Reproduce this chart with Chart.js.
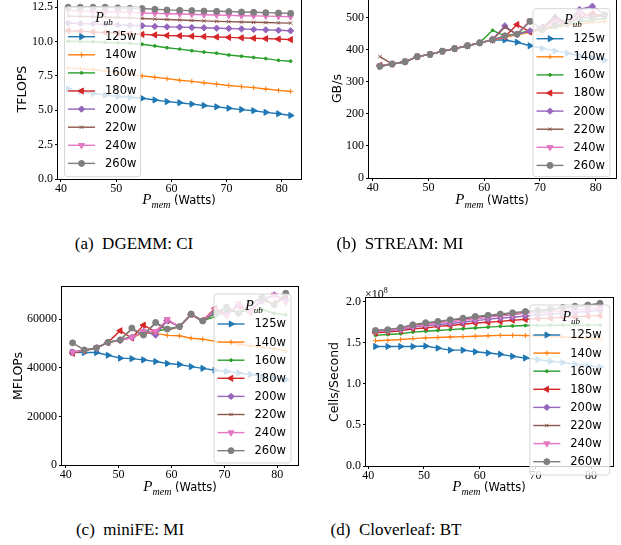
<!DOCTYPE html>
<html>
<head>
<meta charset="utf-8">
<script src="https://cdn.jsdelivr.net/npm/chart.js@4.4.0/dist/chart.umd.min.js"></script>
<style>
body{margin:0;background:#fff;width:621px;height:545px;overflow:hidden;position:relative}
canvas{position:absolute}
.xt{position:absolute;font-family:"DejaVu Sans";font-size:11.5px;line-height:1;white-space:nowrap;transform:translate(-50%,-50%)}
.xt i{font-family:"Liberation Serif";font-size:15px}
.xt sub{font-family:"Liberation Serif";font-style:italic;font-size:10px}
.cap{position:absolute;font-family:"Liberation Serif";font-size:17px;line-height:1;transform:translate(-50%,-50%);white-space:nowrap}
.mult{position:absolute;font-family:"Liberation Serif";font-size:12px;line-height:1}
.mult sup{font-size:8px}
</style>
</head>
<body>
<canvas id="ca" width="309" height="203" style="left:0px;top:-10px"></canvas>
<canvas id="cb" width="312" height="202" style="left:310px;top:-10px"></canvas>
<canvas id="cc" width="308" height="202" style="left:0px;top:277px"></canvas>
<canvas id="cd" width="309" height="192" style="left:310px;top:288px"></canvas>

<div class="xt" style="left:179px;top:201px"><i>P</i><sub>mem</sub> (Watts)</div>
<div class="xt" style="left:492px;top:201px"><i>P</i><sub>mem</sub> (Watts)</div>
<div class="xt" style="left:180px;top:488px"><i>P</i><sub>mem</sub> (Watts)</div>
<div class="xt" style="left:489px;top:488px"><i>P</i><sub>mem</sub> (Watts)</div>
<div class="mult" style="left:365px;top:287px">×10<sup>8</sup></div>

<div class="cap" style="left:134px;top:243px">(a)&nbsp;&nbsp;DGEMM: CI</div>
<div class="cap" style="left:400px;top:243px">(b)&nbsp;&nbsp;STREAM: MI</div>
<div class="cap" style="left:130px;top:529px">(c)&nbsp;&nbsp;miniFE: MI</div>
<div class="cap" style="left:396px;top:529px">(d)&nbsp;&nbsp;Cloverleaf: BT</div>

<script>
// memory power (x axis), same for every panel
var pmem = [41.3, 43.5, 45.8, 48.0, 50.3, 52.5, 54.7, 57.0, 59.2, 61.5, 63.7, 65.9, 68.2, 70.4, 72.7, 74.9, 77.1, 79.4, 81.6];
var caps = ["125w", "140w", "160w", "180w", "200w", "220w", "240w", "260w"];
var xTicks = [40, 50, 60, 70, 80];

// (a) DGEMM, TFLOPS
var dgemm125 = [6.55, 6.35, 6.22, 6.1, 6.0, 5.95, 5.87, 5.75, 5.63, 5.55, 5.45, 5.35, 5.25, 5.15, 5.05, 4.97, 4.85, 4.75, 4.62];
var dgemm140 = [8.1, 8.03, 7.97, 7.85, 7.75, 7.62, 7.5, 7.4, 7.3, 7.18, 7.1, 7.0, 6.9, 6.8, 6.72, 6.65, 6.55, 6.45, 6.37];
var dgemm160 = [10.02, 10.0, 9.98, 9.93, 9.9, 9.87, 9.8, 9.68, 9.55, 9.45, 9.33, 9.23, 9.15, 9.02, 8.93, 8.84, 8.76, 8.63, 8.57];
var dgemm180 = [10.8, 10.75, 10.7, 10.65, 10.6, 10.57, 10.52, 10.48, 10.44, 10.42, 10.39, 10.36, 10.33, 10.3, 10.27, 10.24, 10.21, 10.18, 10.14];
var dgemm200 = [11.35, 11.3, 11.28, 11.25, 11.22, 11.18, 11.15, 11.1, 11.07, 11.05, 11.02, 11.0, 10.97, 10.95, 10.92, 10.88, 10.85, 10.82, 10.78];
var dgemm220 = [11.85, 11.83, 11.8, 11.78, 11.75, 11.72, 11.68, 11.63, 11.6, 11.57, 11.53, 11.5, 11.47, 11.45, 11.42, 11.4, 11.38, 11.36, 11.34];
var dgemm240 = [12.25, 12.22, 12.2, 12.18, 12.15, 12.12, 12.08, 12.05, 12.02, 12.0, 11.98, 11.95, 11.93, 11.9, 11.88, 11.87, 11.85, 11.83, 11.8];
var dgemm260 = [12.5, 12.5, 12.5, 12.5, 12.45, 12.42, 12.4, 12.35, 12.3, 12.27, 12.25, 12.22, 12.2, 12.18, 12.15, 12.13, 12.1, 12.08, 12.05];
var dgemmTicks = [0, 2.5, 5, 7.5, 10, 12.5];

// (b) STREAM, GB/s
var stream125 = [348, 355, 362, 378, 385, 395, 403, 412, 421, 430, 430, 423, 412, 404, 396, 389, 381, 374, 367];
var stream140 = [348, 355, 362, 378, 385, 395, 403, 412, 421, 430, 438, 446, 454, 462, 469, 475, 480, 485, 488];
var stream160 = [348, 355, 362, 378, 385, 395, 403, 412, 421, 460, 442, 450, 458, 466, 472, 480, 486, 492, 497];
var stream180 = [351, 355, 362, 378, 385, 395, 403, 412, 421, 430, 440, 478, 455, 470, 492, 482, 500, 512, 505];
var stream200 = [348, 355, 362, 378, 385, 395, 403, 412, 421, 432, 474, 447, 458, 468, 500, 485, 525, 535, 510];
var stream220 = [378, 355, 362, 378, 385, 395, 403, 412, 421, 430, 470, 447, 488, 465, 505, 480, 520, 500, 512];
var stream240 = [350, 355, 362, 378, 385, 395, 403, 412, 421, 430, 442, 448, 490, 462, 485, 478, 515, 500, 505];
var stream260 = [348, 355, 362, 378, 385, 395, 403, 412, 421, 431, 443, 448, 488, 462, 475, 482, 497, 500, 508];
var streamTicks = [0, 100, 200, 300, 400, 500];

// (c) miniFE, MFLOPs
var minife125 = [46400, 46300, 46300, 45200, 44000, 43800, 43300, 42600, 41800, 41400, 40500, 39800, 39000, 38500, 37900, 37300, 36500, 36000, 35200];
var minife140 = [46500, 47000, 48000, 50500, 51200, 52500, 54300, 54200, 53400, 53200, 52200, 51800, 51000, 50500, 49800, 49000, 48500, 47800, 47000];
var minife160 = [46500, 47200, 48200, 50500, 51500, 53000, 54500, 55000, 56000, 57000, 62000, 59500, 61000, 63500, 63000, 63800, 64000, 62500, 61800];
var minife180 = [46000, 47200, 48200, 50500, 55300, 52300, 57600, 54800, 59500, 57000, 62000, 59500, 64500, 62000, 65500, 63000, 68000, 66500, 69000];
var minife200 = [46500, 47200, 48200, 50500, 51500, 52500, 55000, 53500, 59500, 57000, 62000, 59500, 63000, 62000, 66000, 63500, 67500, 70000, 68000];
var minife220 = [46500, 47200, 48200, 50500, 51500, 56000, 53500, 58500, 55500, 57000, 62000, 59000, 62500, 64500, 62500, 66000, 69000, 66000, 70500];
var minife240 = [46500, 47200, 48200, 50500, 51200, 52500, 55000, 55000, 60000, 57000, 62000, 59500, 64000, 61500, 66500, 63000, 68500, 70000, 67000];
var minife260 = [50300, 47400, 48200, 50500, 51500, 56400, 53500, 58700, 56000, 57000, 62200, 59300, 62500, 65000, 62500, 66500, 69000, 66000, 70700];
var minifeTicks = [0, 20000, 40000, 60000];

// (d) Cloverleaf, cells/second in units of 1e8
var clover125 = [1.455, 1.455, 1.455, 1.455, 1.46, 1.435, 1.41, 1.41, 1.39, 1.375, 1.36, 1.335, 1.315, 1.295, 1.275, 1.26, 1.24, 1.22, 1.205];
var clover140 = [1.525, 1.53, 1.54, 1.55, 1.56, 1.565, 1.57, 1.575, 1.58, 1.585, 1.59, 1.59, 1.588, 1.585, 1.58, 1.57, 1.565, 1.555, 1.545];
var clover160 = [1.59, 1.6, 1.61, 1.63, 1.64, 1.65, 1.66, 1.67, 1.68, 1.69, 1.7, 1.705, 1.71, 1.712, 1.713, 1.714, 1.715, 1.715, 1.715];
var clover180 = [1.62, 1.63, 1.645, 1.67, 1.68, 1.7, 1.71, 1.725, 1.74, 1.75, 1.76, 1.775, 1.785, 1.795, 1.8, 1.81, 1.815, 1.825, 1.83];
var clover200 = [1.64, 1.645, 1.66, 1.69, 1.71, 1.72, 1.735, 1.75, 1.77, 1.785, 1.8, 1.81, 1.825, 1.84, 1.85, 1.86, 1.87, 1.88, 1.895];
var clover220 = [1.65, 1.66, 1.68, 1.715, 1.735, 1.755, 1.775, 1.79, 1.81, 1.825, 1.84, 1.855, 1.87, 1.89, 1.905, 1.925, 1.94, 1.955, 1.975];
var clover240 = [1.645, 1.65, 1.67, 1.7, 1.72, 1.74, 1.755, 1.775, 1.79, 1.81, 1.825, 1.84, 1.86, 1.87, 1.88, 1.89, 1.9, 1.91, 1.92];
var clover260 = [1.65, 1.66, 1.685, 1.72, 1.745, 1.76, 1.78, 1.8, 1.82, 1.835, 1.85, 1.865, 1.88, 1.895, 1.91, 1.93, 1.945, 1.96, 1.98];
var cloverTicks = [0, 0.5, 1, 1.5, 2];

// matplotlib tab10 colours and markers for each cap
var colors = ["#1f77b4", "#ff7f0e", "#2ca02c", "#d62728", "#9467bd", "#8c564b", "#e377c2", "#7f7f7f"];
var marks = [
  {s: "triangle", r: 90, pr: 3.5},
  {s: "cross", r: 0, pr: 2.6},
  {s: "circle", r: 0, pr: 1.4},
  {s: "triangle", r: -90, pr: 3.5},
  {s: "rectRot", r: 0, pr: 3.2},
  {s: "crossRot", r: 0, pr: 2.4},
  {s: "triangle", r: 180, pr: 3.5},
  {s: "circle", r: 0, pr: 3}
];

function makeSets(rows){
  return caps.map(function(c, i){
    return {
      label: c,
      data: pmem.map(function(x, j){ return {x: x, y: rows[i][j]}; }),
      borderColor: colors[i],
      backgroundColor: colors[i],
      borderWidth: 1.4,
      pointStyle: marks[i].s,
      rotation: marks[i].r,
      pointRadius: marks[i].pr,
      pointBorderWidth: 1,
      tension: 0,
      order: 7 - i
    };
  });
}

// full black box round the plot area
var frame = {
  id: "frame",
  afterDatasetsDraw: function(chart){
    var a = chart.chartArea, ctx = chart.ctx;
    ctx.save();
    ctx.strokeStyle = "#000";
    ctx.lineWidth = 1;
    ctx.strokeRect(Math.round(a.left) - 0.5, Math.round(a.top) - 0.5, Math.round(a.right - a.left) + 1, Math.round(a.bottom - a.top) + 1);
    ctx.restore();
  }
};

// matplotlib-like legend drawn inside the axes
var boxLegend = {
  id: "boxLegend",
  afterDraw: function(chart, args, o){
    var ctx = chart.ctx, a = chart.chartArea;
    var bx = a.left + o.dx, by = a.top + o.dy;
    ctx.save();
    ctx.beginPath();
    ctx.roundRect(bx + 0.5, by + 0.5, o.w, o.h, 3);
    ctx.fillStyle = "rgba(255,255,255,0.8)";
    ctx.fill();
    ctx.strokeStyle = "rgba(204,204,204,0.8)";
    ctx.lineWidth = 1;
    ctx.stroke();

    ctx.fillStyle = "#000";
    ctx.textBaseline = "alphabetic";
    ctx.textAlign = "left";
    ctx.font = "italic 14px 'Liberation Serif'";
    var pw = ctx.measureText("P").width;
    ctx.font = "italic 9px 'Liberation Serif'";
    var sw = ctx.measureText("ub").width;
    var tx = bx + o.w / 2 - (pw + sw) / 2 + 2;
    ctx.font = "italic 14px 'Liberation Serif'";
    ctx.fillText("P", tx, by + 16);
    ctx.font = "italic 9px 'Liberation Serif'";
    ctx.fillText("ub", tx + pw, by + 19);

    chart.data.datasets.forEach(function(ds, i){
      var y = by + 30.5 + i * 18.1;
      ctx.strokeStyle = ds.borderColor;
      ctx.lineWidth = 1.4;
      ctx.beginPath();
      ctx.moveTo(bx + 4, y);
      ctx.lineTo(bx + 31, y);
      ctx.stroke();
      ctx.fillStyle = ds.backgroundColor;
      ctx.lineWidth = 1;
      Chart.helpers.drawPoint(ctx, {pointStyle: ds.pointStyle, rotation: ds.rotation, radius: ds.pointRadius, borderWidth: 1}, bx + 17.5, y);
      ctx.fillStyle = "#000";
      ctx.font = "11.5px 'DejaVu Sans'";
      ctx.textBaseline = "middle";
      ctx.fillText(ds.label, bx + 41, y + 0.5);
      ctx.textBaseline = "alphabetic";
    });
    ctx.restore();
  }
};

function panel(id, rows, cfg){
  var tickFont = {family: "'Liberation Serif'", size: 12};
  return new Chart(document.getElementById(id), {
    type: "line",
    data: {datasets: makeSets(rows)},
    plugins: [frame, boxLegend],
    options: {
      responsive: false,
      animation: false,
      layout: {autoPadding: false, padding: {top: cfg.padTop, right: cfg.padRight, left: 0, bottom: 0}},
      plugins: {
        legend: {display: false},
        tooltip: {enabled: false},
        boxLegend: cfg.legend
      },
      scales: {
        x: {
          type: "linear",
          min: cfg.xmin, max: cfg.xmax,
          afterFit: function(s){ s.height = cfg.xh; },
          afterBuildTicks: function(s){ s.ticks = xTicks.map(function(v){ return {value: v}; }); },
          ticks: {font: tickFont, color: "#000", padding: 0, maxRotation: 0, autoSkip: false},
          grid: {display: true, drawOnChartArea: false, drawTicks: true, tickLength: 3, tickColor: "#000"},
          border: {display: false}
        },
        y: {
          min: 0, max: cfg.ymax,
          afterFit: function(s){ s.width = cfg.yw; },
          afterBuildTicks: function(s){ s.ticks = cfg.yticks.map(function(v){ return {value: v}; }); },
          ticks: {font: tickFont, color: "#000", padding: 2, autoSkip: false, callback: cfg.fmt},
          grid: {display: true, drawOnChartArea: false, drawTicks: true, tickLength: 3, tickColor: "#000"},
          border: {display: false},
          title: {display: true, text: cfg.ytitle, color: "#000", font: {family: "'DejaVu Sans'", size: 12.5}, padding: {top: cfg.titlePad, bottom: 0}}
        }
      }
    }
  });
}

var oneDec = function(v){ return v.toFixed(1); };
var plain = function(v){ return String(v); };

panel("ca", [dgemm125, dgemm140, dgemm160, dgemm180, dgemm200, dgemm220, dgemm240, dgemm260], {
  xmin: 39.46, xmax: 83.48, ymax: 13.08, yticks: dgemmTicks, fmt: oneDec, ytitle: "TFLOPS",
  yw: 58, xh: 14, padTop: 8, padRight: 8, titlePad: 15.5,
  legend: {dx: 6, dy: 7, w: 76, h: 170}
});
panel("cb", [stream125, stream140, stream160, stream180, stream200, stream220, stream240, stream260], {
  xmin: 39.34, xmax: 83.64, ymax: 557, yticks: streamTicks, fmt: plain, ytitle: "GB/s",
  yw: 59, xh: 14, padTop: 8, padRight: 6, titlePad: 20.5,
  legend: {dx: 163.5, dy: 9, w: 77, h: 168}
});
panel("cc", [minife125, minife140, minife160, minife180, minife200, minife220, minife240, minife260], {
  xmin: 39.3, xmax: 83.91, ymax: 73300, yticks: minifeTicks, fmt: plain, ytitle: "MFLOPs",
  yw: 62, xh: 14, padTop: 10, padRight: 10, titlePad: 11.5,
  legend: {dx: 151.5, dy: 6.5, w: 77, h: 169}
});
panel("cd", [clover125, clover140, clover160, clover180, clover200, clover220, clover240, clover260], {
  xmin: 39.59, xmax: 83.93, ymax: 2.045, yticks: cloverTicks, fmt: oneDec, ytitle: "Cells/Second",
  yw: 56, xh: 14, padTop: 10, padRight: 6, titlePad: 17.5,
  legend: {dx: 163.3, dy: 6.5, w: 80, h: 170}
});
</script>
</body>
</html>
